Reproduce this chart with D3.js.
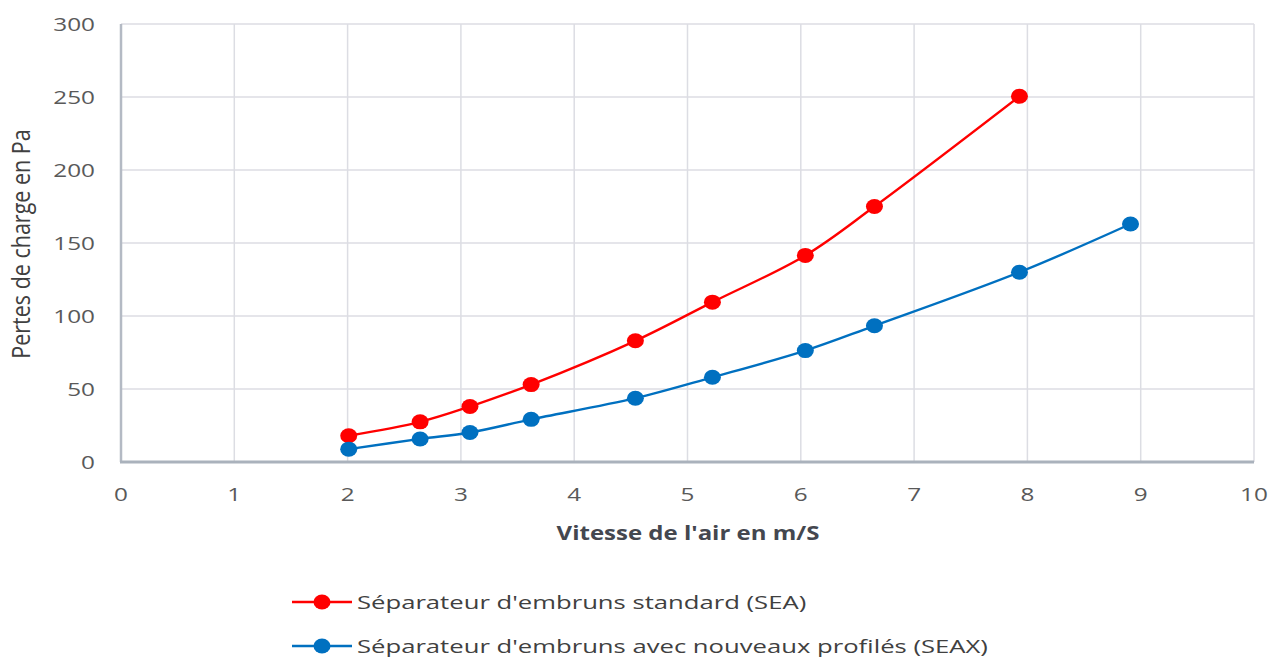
<!DOCTYPE html>
<html>
<head>
<meta charset="utf-8">
<script src="https://cdn.jsdelivr.net/npm/d3@7"></script>
<style>
  html, body { margin: 0; padding: 0; background: #fff; }
  svg { display: block; font-family: "Open Sans", "Noto Sans", sans-serif; }
</style>
</head>
<body>
<svg id="chart" width="1283" height="659"></svg>
<script>
/* Pertes de charge vs vitesse de l'air — two separator profiles */
var seaX  = [2.01, 2.64, 3.08, 3.62, 4.54, 5.22, 6.04, 6.65, 7.93];
var seaY  = [18, 27.5, 38, 53, 83, 109.5, 141.5, 175, 250.5];
var seaxX = [2.01, 2.64, 3.08, 3.62, 4.54, 5.22, 6.04, 6.65, 7.93, 8.91];
var seaxY = [8.8, 15.8, 20.2, 29.2, 43.7, 58, 76.3, 93.3, 130, 163];
var xTicks = [0, 1, 2, 3, 4, 5, 6, 7, 8, 9, 10];
var yTicks = [0, 50, 100, 150, 200, 250, 300];
var seriesNames = ["Séparateur d'embruns standard (SEA)",
                   "Séparateur d'embruns avec nouveaux profilés (SEAX)"];
var seriesColors = ["#ff0000", "#0070c0"];

(function () {
  'use strict';
  var svg = d3.select('#chart');
  var m = { left: 121, right: 1254, top: 24, bottom: 462 };
  var SX = 1.28; // the picture is stretched horizontally, text too

  var xs = d3.scaleLinear().domain([0, 10]).range([m.left, m.right]);
  var ys = d3.scaleLinear().domain([0, 300]).range([m.bottom, m.top]);

  function stretchedText(g, x, y, str, anchor, sx) {
    return g.append('text')
      .attr('transform', 'translate(' + x + ',' + y + ') scale(' + sx + ',1)')
      .attr('text-anchor', anchor)
      .text(str);
  }

  /* grid */
  var grid = svg.append('g').attr('stroke', '#dcdde3').attr('stroke-width', 1.5);
  xTicks.forEach(function (t) {
    grid.append('line').attr('x1', xs(t)).attr('x2', xs(t))
      .attr('y1', ys(0)).attr('y2', ys(300));
  });
  yTicks.forEach(function (t) {
    grid.append('line').attr('x1', xs(0)).attr('x2', xs(10))
      .attr('y1', ys(t)).attr('y2', ys(t));
  });

  /* axis lines */
  svg.append('line').attr('x1', xs(0)).attr('x2', xs(0))
    .attr('y1', ys(0)).attr('y2', ys(300))
    .attr('stroke', '#b4bac4').attr('stroke-width', 2.5);
  svg.append('line').attr('x1', xs(0) - 1).attr('x2', xs(10))
    .attr('y1', ys(0)).attr('y2', ys(0))
    .attr('stroke', '#aab2bc').attr('stroke-width', 3);

  /* tick labels */
  var tl = svg.append('g').style('font-size', '19px').style('fill', '#595959');
  yTicks.forEach(function (t) {
    stretchedText(tl, 95, ys(t) + 7, String(t), 'end', SX);
  });
  xTicks.forEach(function (t) {
    stretchedText(tl, xs(t), 501, String(t), 'middle', SX);
  });

  /* axis titles */
  svg.append('text')
    .attr('transform', 'translate(30,244) scale(1.15,1) rotate(-90)')
    .attr('text-anchor', 'middle')
    .style('font-size', '21.5px').style('fill', '#404040')
    .text('Pertes de charge en Pa');
  var xt = stretchedText(svg, 688, 540, "Vitesse de l'air en m/S", 'middle', 1.2);
  xt.style('font-size', '20px').style('font-weight', 'bold').style('fill', '#44474f');

  /* series */
  var series = [
    { xv: seaX, yv: seaY },
    { xv: seaxX, yv: seaxY }
  ];
  var line = d3.line()
    .x(function (d) { return xs(d[0]); })
    .y(function (d) { return ys(d[1]); })
    .curve(d3.curveCatmullRom.alpha(0.5));

  series.forEach(function (s, i) {
    var pts = s.xv.map(function (v, k) { return [v, s.yv[k]]; });
    svg.append('path').datum(pts)
      .attr('d', line).attr('fill', 'none')
      .attr('stroke', seriesColors[i]).attr('stroke-width', 2.4);
    svg.append('g').selectAll('ellipse').data(pts).enter().append('ellipse')
      .attr('cx', function (d) { return xs(d[0]); })
      .attr('cy', function (d) { return ys(d[1]); })
      .attr('rx', 8.5).attr('ry', 7.5)
      .attr('fill', seriesColors[i]);
  });

  /* legend */
  var lg = svg.append('g');
  seriesNames.forEach(function (name, i) {
    var y = 602 + i * 44;
    lg.append('line').attr('x1', 292).attr('x2', 352).attr('y1', y).attr('y2', y)
      .attr('stroke', seriesColors[i]).attr('stroke-width', 2.4);
    lg.append('ellipse').attr('cx', 322).attr('cy', y).attr('rx', 8.5).attr('ry', 7.5)
      .attr('fill', seriesColors[i]);
    stretchedText(lg, 357, y + 7, name, 'start', 1.35)
      .style('font-size', '19px').style('fill', '#404040');
  });
})();
</script>
</body>
</html>
